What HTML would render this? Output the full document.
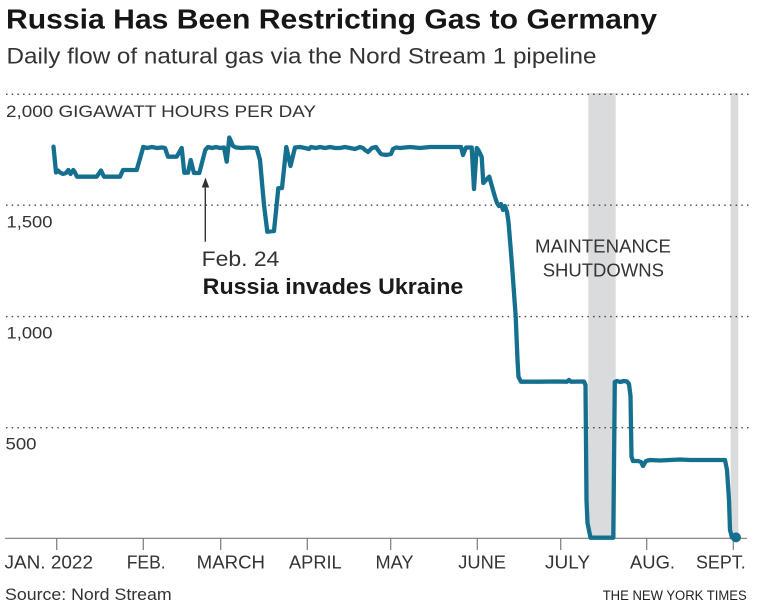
<!DOCTYPE html>
<html>
<head>
<meta charset="utf-8">
<style>
  html,body{margin:0;padding:0;background:#fff;}
  svg{display:block;}
  text{font-family:"Liberation Sans", Arial, sans-serif;}
</style>
</head>
<body>
<svg width="759" height="610" viewBox="0 0 759 610" xmlns="http://www.w3.org/2000/svg">
  <rect width="759" height="610" fill="#fff"/>

  <!-- Title & subtitle -->
  <text x="6" y="28.5" font-size="28" font-weight="bold" fill="#161616" textLength="651" lengthAdjust="spacingAndGlyphs">Russia Has Been Restricting Gas to Germany</text>
  <text x="6.5" y="63.3" font-size="22" fill="#333" textLength="590" lengthAdjust="spacingAndGlyphs">Daily flow of natural gas via the Nord Stream 1 pipeline</text>

  <!-- Maintenance bands -->
  <rect x="588.3" y="93" width="27.4" height="445.5" fill="#dadbdc"/>
  <rect x="730.7" y="93" width="7.6" height="445.5" fill="#dadbdc"/>

  <!-- Gridlines -->
  <g stroke="#444" stroke-width="1.4" stroke-dasharray="1.5 4.2">
    <line x1="6" y1="94.3" x2="750" y2="94.3"/>
    <line x1="6" y1="205.2" x2="750" y2="205.2"/>
    <line x1="6" y1="316.6" x2="750" y2="316.6"/>
    <line x1="6" y1="427.7" x2="750" y2="427.7"/>
  </g>

  <!-- Y labels -->
  <g font-size="17" fill="#333">
    <text x="6" y="117" textLength="310" lengthAdjust="spacingAndGlyphs">2,000 GIGAWATT HOURS PER DAY</text>
    <text x="6.5" y="227.3" textLength="46" lengthAdjust="spacingAndGlyphs">1,500</text>
    <text x="6.5" y="338.3" textLength="46" lengthAdjust="spacingAndGlyphs">1,000</text>
    <text x="5.5" y="449.3" textLength="31" lengthAdjust="spacingAndGlyphs">500</text>
  </g>

  <!-- X axis -->
  <line x1="5" y1="538.3" x2="747" y2="538.3" stroke="#7a7a7a" stroke-width="1.2"/>
  <g stroke="#7a7a7a" stroke-width="1.2">
    <line x1="56.7" y1="538" x2="56.7" y2="550"/>
    <line x1="143.3" y1="538" x2="143.3" y2="550"/>
    <line x1="220.7" y1="538" x2="220.7" y2="550"/>
    <line x1="307.3" y1="538" x2="307.3" y2="550"/>
    <line x1="390.7" y1="538" x2="390.7" y2="550"/>
    <line x1="477.3" y1="538" x2="477.3" y2="550"/>
    <line x1="560.7" y1="538" x2="560.7" y2="550"/>
    <line x1="646.7" y1="538" x2="646.7" y2="550"/>
    <line x1="733.3" y1="538" x2="733.3" y2="550"/>
  </g>
  <g font-size="18" fill="#333">
    <text x="4.5" y="568.3" textLength="88.5" lengthAdjust="spacingAndGlyphs">JAN. 2022</text>
    <text x="126.7" y="568.3" textLength="39" lengthAdjust="spacingAndGlyphs">FEB.</text>
    <text x="196.7" y="568.3" textLength="68.3" lengthAdjust="spacingAndGlyphs">MARCH</text>
    <text x="289" y="568.3" textLength="52.7" lengthAdjust="spacingAndGlyphs">APRIL</text>
    <text x="375.5" y="568.3" textLength="38" lengthAdjust="spacingAndGlyphs">MAY</text>
    <text x="458.3" y="568.3" textLength="47.7" lengthAdjust="spacingAndGlyphs">JUNE</text>
    <text x="545" y="568.3" textLength="45" lengthAdjust="spacingAndGlyphs">JULY</text>
    <text x="630" y="568.3" textLength="45" lengthAdjust="spacingAndGlyphs">AUG.</text>
    <text x="696" y="568.3" textLength="49.7" lengthAdjust="spacingAndGlyphs">SEPT.</text>
  </g>

  <!-- Annotation -->
  <line x1="205.3" y1="186" x2="205.3" y2="241.7" stroke="#333" stroke-width="1.4"/>
  <polygon points="205.5,177.5 201.8,187.5 209.2,187.5" fill="#333"/>
  <text x="201.7" y="266" font-size="21" fill="#333" textLength="77.6" lengthAdjust="spacingAndGlyphs">Feb. 24</text>
  <text x="202.7" y="294" font-size="22" font-weight="bold" fill="#1a1a1a" textLength="260.6" lengthAdjust="spacingAndGlyphs">Russia invades Ukraine</text>

  <text x="535" y="252.7" font-size="18.5" fill="#333" textLength="136" lengthAdjust="spacingAndGlyphs">MAINTENANCE</text>
  <text x="542.7" y="276.7" font-size="18.5" fill="#333" textLength="121.3" lengthAdjust="spacingAndGlyphs">SHUTDOWNS</text>

  <!-- Series -->
  <polyline fill="none" stroke="#15708f" stroke-width="4.3" stroke-linejoin="round" stroke-linecap="round"
    points="
    53.5,146.7 56,172.5 58,170.5 60,172.5 63,174 66,173 68.3,170 70.5,174 73.3,170 75,172.5 77,176.7
    96.7,176.7 101,170.5 104,176.7 120,176.7 123,170 136.7,170 143.3,147 147,148 152,147 157,148 162,147.5 165,148
    168,156.7 176.7,156.7 181.7,148 184.3,172.7 188,172.7 190.7,160 194,173 199.3,173 205.3,150 208,147
    212,148 216,147 220,148 224,147.5 226.7,161.7 229.3,137.5 233,146 236,147.5 242,148 248,147.5 256.7,148
    260,160 264,205 267.3,231.7 274,231 278.3,188.3 282,188 286.3,147 290.5,166 295,147.5
    300,147 305,148 309,149 311,147 316,148 320,147 325,148 330,147 335,148 340,148 345,147 350,148 355,149
    360,147 363,148 365,150 368,152 372,148 376,147 378,150 381,154 386,155 391,154 393,149 396,147.5
    400,148 410,147 420,148 430,147 440,147 450,147 461,147 463,155 466,147.5 471.7,147.5 474,189 476.7,148
    478.3,150 481.7,157 483.3,183 486,180 489.3,176.7 491,183 493,190 495,197 497,203 499,206 501,204 503,210
    505,206 507,212 508.5,222 512,265 515.7,316.6 517.5,360 518.5,377 521,381.7
    540,381.7 555,381.5 567,381.7 569,380 571,381.7 584,381.5 585.5,385 586.5,500 587.5,523 590.5,537.7
    613.3,537.7 614.8,382 617,381 620,382 624,381 627,381.5 629,384 630.5,396 631.5,456.7 633,461 638,461
    641,462 643,466 646,461 650,460 660,460.5 670,460 680,459.5 690,460 700,460 710,460 725,460 727,470
    729,500 730,530 732,537.5 736,537.5"/>
  <circle cx="736" cy="537.4" r="5" fill="#15708f"/>

  <!-- Footer -->
  <text x="5" y="600" font-size="17" fill="#333" textLength="166.7" lengthAdjust="spacingAndGlyphs">Source: Nord Stream</text>
  <text x="602.7" y="600" font-size="13.5" fill="#222" textLength="144" lengthAdjust="spacingAndGlyphs">THE NEW YORK TIMES</text>
</svg>
</body>
</html>
